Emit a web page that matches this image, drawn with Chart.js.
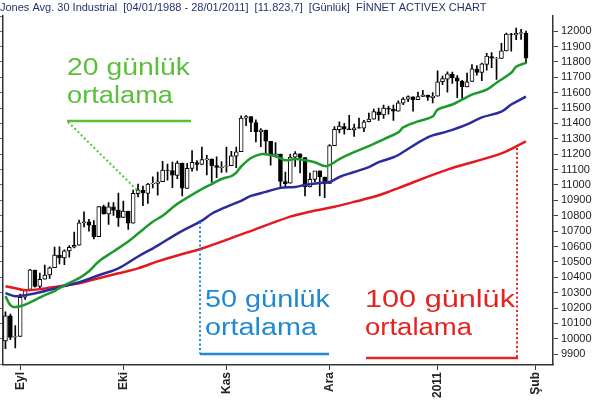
<!DOCTYPE html>
<html lang="tr">
<head>
  <meta charset="UTF-8">
  <title>Dow Jones - hareketli ortalamalar</title>
  <script src="https://cdn.jsdelivr.net/npm/chart.js@4.4.2/dist/chart.umd.min.js"></script>
  <style>
    html, body { margin: 0; padding: 0; background: #fff; }
    #wrap { width: 600px; height: 404px; position: relative; }
  </style>
</head>
<body>
  <div id="wrap"><canvas id="chart" width="600" height="404"></canvas></div>

  <script>
    // trading days (dd.mm), last five are empty slots on the right
    const days = [
      '27.08','30.08','31.08',
      '01.09','02.09','03.09','07.09','08.09','09.09','10.09','13.09','14.09','15.09','16.09','17.09','20.09','21.09','22.09','23.09','24.09','27.09','28.09','29.09','30.09',
      '01.10','04.10','05.10','06.10','07.10','08.10','11.10','12.10','13.10','14.10','15.10','18.10','19.10','20.10','21.10','22.10','25.10','26.10','27.10','28.10','29.10',
      '01.11','02.11','03.11','04.11','05.11','08.11','09.11','10.11','11.11','12.11','15.11','16.11','17.11','18.11','19.11','22.11','23.11','24.11','26.11','29.11','30.11',
      '01.12','02.12','03.12','06.12','07.12','08.12','09.12','10.12','13.12','14.12','15.12','16.12','17.12','20.12','21.12','22.12','23.12','27.12','28.12','29.12','30.12','31.12',
      '03.01','04.01','05.01','06.01','07.01','10.01','11.01','12.01','13.01','14.01','18.01','19.01','20.01','21.01','24.01','25.01','26.01','27.01','28.01',
      '31.01','01.02','02.02','03.02','04.02'
    ];

    const tickDays = ['01.09', '01.10', '01.11', '01.12', '03.01', '01.02'];
    const tickNames = ['Eyl', 'Eki', 'Kas', 'Ara', '2011', 'Şub'];

    const opens = [
      9986, 10150, 10010,
      10016, 10270, 10321, 10447, 10340, 10388, 10416, 10463, 10544, 10525, 10571, 10595, 10608, 10754, 10761, 10738, 10664, 10859, 10811, 10858, 10836,
      10789, 10828, 10752, 10944, 10967, 10945, 11006, 11010, 11021, 11096, 11094, 11062, 11143, 10978, 11107, 11146, 11133, 11163, 11168, 11126, 11113,
      11120, 11125, 11188, 11216, 11434, 11444, 11405, 11346, 11357, 11283, 11194, 11200, 11022, 11011, 11181, 11203, 11178, 10988, 11036, 11092, 11051,
      11010, 11255, 11360, 11380, 11365, 11358, 11373, 11370, 11411, 11428, 11476, 11456, 11498, 11491, 11479, 11532, 11558, 11573, 11555, 11575, 11585, 11568,
      11577, 11671, 11688, 11721, 11697, 11674, 11638, 11673, 11753, 11731, 11783, 11835, 11822, 11823, 11872, 11980, 11977, 11985, 11988
    ];
    const highs = [
      10175, 10160, 10086,
      10290, 10322, 10452, 10447, 10428, 10480, 10468, 10597, 10598, 10578, 10606, 10693, 10772, 10826, 10776, 10768, 10860, 10869, 10885, 10886, 10948,
      10896, 10831, 10966, 11006, 10993, 11011, 11053, 11083, 11153, 11136, 11148, 11155, 11143, 11140, 11224, 11159, 11247, 11192, 11170, 11183, 11152,
      11247, 11219, 11247, 11450, 11451, 11444, 11423, 11366, 11357, 11283, 11275, 11200, 11083, 11201, 11217, 11203, 11178, 11077, 11089, 11092, 11051,
      11263, 11380, 11411, 11400, 11452, 11396, 11435, 11420, 11467, 11494, 11500, 11520, 11512, 11520, 11547, 11568, 11580, 11573, 11603, 11615, 11585, 11600,
      11742, 11708, 11735, 11734, 11711, 11680, 11728, 11783, 11776, 11792, 11856, 11861, 11830, 11920, 11988, 11985, 12020, 12012, 12000
    ];
    const lows = [
      9936, 9995, 9941,
      10016, 10256, 10321, 10335, 10329, 10388, 10393, 10463, 10486, 10482, 10531, 10590, 10608, 10727, 10700, 10649, 10664, 10810, 10743, 10802, 10730,
      10789, 10711, 10752, 10922, 10865, 10880, 10981, 10934, 11021, 11031, 10982, 11041, 10929, 10978, 11089, 11094, 11133, 11066, 11019, 11048, 11081,
      11084, 11125, 11112, 11216, 11385, 11347, 11280, 11249, 11204, 11128, 11186, 10983, 10985, 11011, 11120, 11079, 10929, 10988, 11021, 10929, 10918,
      11010, 11255, 11339, 11330, 11359, 11315, 11370, 11346, 11410, 11428, 11420, 11432, 11460, 11420, 11479, 11522, 11542, 11480, 11555, 11575, 11550, 11533,
      11577, 11652, 11603, 11660, 11568, 11561, 11638, 11673, 11713, 11678, 11746, 11763, 11686, 11823, 11872, 11870, 11945, 11946, 11792
    ];
    const closes = [
      10150, 10009, 10015,
      10270, 10320, 10448, 10341, 10387, 10415, 10462, 10544, 10526, 10572, 10595, 10608, 10754, 10761, 10739, 10662, 10860, 10812, 10858, 10835, 10788,
      10830, 10752, 10945, 10968, 10948, 11006, 11011, 11021, 11096, 11094, 11063, 11143, 10979, 11108, 11147, 11133, 11165, 11170, 11126, 11114, 11118,
      11125, 11189, 11216, 11434, 11445, 11406, 11347, 11358, 11284, 11193, 11202, 11023, 11008, 11182, 11204, 11179, 10988, 11037, 11092, 11052, 11006,
      11256, 11362, 11382, 11362, 11359, 11372, 11370, 11410, 11429, 11477, 11457, 11499, 11492, 11479, 11534, 11559, 11574, 11555, 11575, 11585, 11570, 11578,
      11671, 11692, 11722, 11698, 11675, 11638, 11671, 11755, 11732, 11787, 11838, 11825, 11823, 11872, 11980, 11978, 11985, 11990, 11824
    ];

    // moving averages
    const ma20Days = ['27.08','30.08','31.08','02.09','07.09','09.09','13.09','15.09','20.09','22.09','24.09','29.09','04.10','06.10','11.10','13.10','18.10','25.10','27.10','29.10','02.11','03.11','04.11','08.11','10.11','12.11','16.11','17.11','19.11','23.11','26.11','30.11','01.12','03.12','08.12','13.12','16.12','21.12','22.12','28.12','31.12','03.01','06.01','10.01','12.01','18.01','20.01','25.01','26.01','28.01'];
    const ma20Values = [10277, 10219, 10206, 10222, 10252, 10284, 10310, 10348, 10394, 10439, 10503, 10568, 10632, 10684, 10761, 10800, 10877, 10974, 11006, 11039, 11058, 11080, 11120, 11175, 11200, 11194, 11174, 11161, 11168, 11161, 11148, 11123, 11129, 11168, 11213, 11252, 11297, 11342, 11374, 11413, 11445, 11490, 11523, 11555, 11587, 11619, 11665, 11729, 11768, 11794];

    const ma50Days = ['27.08','31.08','02.09','08.09','14.09','20.09','24.09','30.09','06.10','12.10','18.10','25.10','27.10','01.11','04.11','08.11','11.11','16.11','19.11','23.11','29.11','01.12','03.12','08.12','13.12','15.12','20.12','21.12','30.12','05.01','11.01','14.01','21.01','25.01','28.01'];
    const ma50Values = [10297, 10277, 10284, 10303, 10335, 10368, 10413, 10458, 10535, 10606, 10684, 10768, 10813, 10858, 10897, 10929, 10955, 10981, 10987, 11000, 11013, 11019, 11052, 11084, 11116, 11148, 11180, 11195, 11310, 11348, 11394, 11439, 11477, 11523, 11574];

    const ma100Days = ['27.08','31.08','02.09','08.09','14.09','20.09','24.09','30.09','06.10','12.10','18.10','25.10','05.11','18.11','24.11','02.12','08.12','14.12','17.12','21.12','05.01','21.01','28.01'];
    const ma100Values = [10342, 10329, 10316, 10323, 10342, 10361, 10394, 10426, 10458, 10503, 10542, 10587, 10690, 10794, 10826, 10858, 10890, 10923, 10955, 10980, 11100, 11205, 11284];

    const bodyColors = closes.map((c, i) => c >= opens[i] ? '#ffffff' : '#000000');

    function maPoints(ds, vs) {
      return ds.map((d, k) => ({ x: d, y: vs[k] }));
    }

    function tickLabel(i) {
      const k = tickDays.indexOf(days[i]);
      return k >= 0 ? tickNames[k] : '';
    }

    // text labels + pointer lines drawn on top (widths = stretched text width)
    const notes = [
      { lines: ['20 günlük', 'ortalama'], widths: [123, 106], color: '#5bbf3d', x: 67, y: 75,
        bar: [67, 121, 191, 121], dots: [68, 122, 140, 193] },
      { lines: ['50 günlük', 'ortalama'], widths: [125, 112], color: '#1f8ad3', x: 205, y: 307,
        bar: [200, 354, 329, 354], dots: [200, 222, 200, 354] },
      { lines: ['100 günlük', 'ortalama'], widths: [150, 107], color: '#e5231f', x: 365, y: 307,
        bar: [366, 358, 518, 358], dots: [517, 148, 517, 358] }
    ];

    const notePlugin = {
      id: 'notes',
      afterDraw(chart) {
        const ctx = chart.ctx;
        ctx.save();
        notes.forEach(n => {
          ctx.fillStyle = n.color;
          ctx.strokeStyle = n.color;
          ctx.font = '23px "Liberation Sans", Arial, sans-serif';
          n.lines.forEach((t, j) => {
            const w = ctx.measureText(t).width;
            ctx.save();
            ctx.translate(n.x, n.y + j * 28);
            ctx.scale(n.widths[j] / w, 1);
            ctx.fillText(t, 0, 0);
            ctx.restore();
          });
          ctx.lineWidth = 2.5;
          ctx.setLineDash([]);
          ctx.beginPath();
          ctx.moveTo(n.bar[0], n.bar[1]);
          ctx.lineTo(n.bar[2], n.bar[3]);
          ctx.stroke();
          ctx.lineWidth = 2;
          ctx.setLineDash([2, 2.5]);
          ctx.beginPath();
          ctx.moveTo(n.dots[0], n.dots[1]);
          ctx.lineTo(n.dots[2], n.dots[3]);
          ctx.stroke();
        });
        ctx.restore();
      }
    };

    Chart.defaults.font.family = '"Liberation Sans", Arial, sans-serif';

    new Chart(document.getElementById('chart'), {
      type: 'bar',
      data: {
        labels: days,
        datasets: [
          {
            type: 'line', label: '20', data: maPoints(ma20Days, ma20Values),
            borderColor: '#1e9a2c', borderWidth: 2.5, pointRadius: 0, tension: 0.35, order: 0
          },
          {
            type: 'line', label: '50', data: maPoints(ma50Days, ma50Values),
            borderColor: '#2a2c9c', borderWidth: 2.5, pointRadius: 0, tension: 0.35, order: 0
          },
          {
            type: 'line', label: '100', data: maPoints(ma100Days, ma100Values),
            borderColor: '#e3191f', borderWidth: 2.5, pointRadius: 0, tension: 0.35, order: 0
          },
          {
            label: 'govde', data: opens.map((o, i) => [o, closes[i]]),
            backgroundColor: bodyColors, borderColor: '#000', borderWidth: 1,
            borderSkipped: false, barThickness: 4, grouped: false, order: 1
          },
          {
            label: 'fitil', data: lows.map((l, i) => [l, highs[i]]),
            backgroundColor: '#000', barThickness: 1, grouped: false, order: 2
          }
        ]
      },
      options: {
        responsive: false,
        animation: false,
        layout: { padding: { left: 0, right: 0, top: 0, bottom: 4 } },
        plugins: {
          legend: { display: false },
          tooltip: { enabled: false },
          title: {
            display: true, align: 'start', color: '#26316c',
            text: 'Jones Avg. 30 Industrial  [04/01/1988 - 28/01/2011]  [11.823,7]  [Günlük]  FİNNET ACTIVEX CHART',
            font: { size: 11, weight: 'normal' }, padding: { top: 1, bottom: 2 }
          }
        },
        scales: {
          x: {
            offset: true,
            afterFit: s => { s.paddingLeft = 0; s.paddingRight = 0; },
            grid: {
              display: true, drawOnChartArea: false, offset: false, tickLength: 5,
              color: c => tickLabel(c.index) ? '#333' : 'rgba(0,0,0,0)'
            },
            border: { display: true, color: '#333', width: 1.5 },
            ticks: {
              autoSkip: false, minRotation: 90, maxRotation: 90, padding: 2,
              color: '#222', font: { size: 12, weight: 'bold' },
              callback: (v, i) => tickLabel(i)
            }
          },
          y: {
            position: 'right', min: 9830, max: 12097,
            afterBuildTicks: s => { s.ticks = s.ticks.filter(t => t.value % 100 === 0); },
            afterFit: s => { s.width = 47; },
            ticks: { stepSize: 100, autoSkip: false, includeBounds: false, color: '#222', font: { size: 11 }, padding: 3,
              callback: v => String(v) },
            grid: { drawOnChartArea: false, tickLength: 5, color: '#444' },
            border: { color: '#333', width: 1.5 }
          },
          yL: {
            position: 'left', min: 9830, max: 12097,
            afterFit: s => { s.width = 3; },
            ticks: { display: false, stepSize: 100 },
            grid: { drawOnChartArea: false, tickLength: 3, color: '#666' },
            border: { color: '#333', width: 1.5 }
          }
        }
      },
      plugins: [notePlugin]
    });
  </script>
</body>
</html>
